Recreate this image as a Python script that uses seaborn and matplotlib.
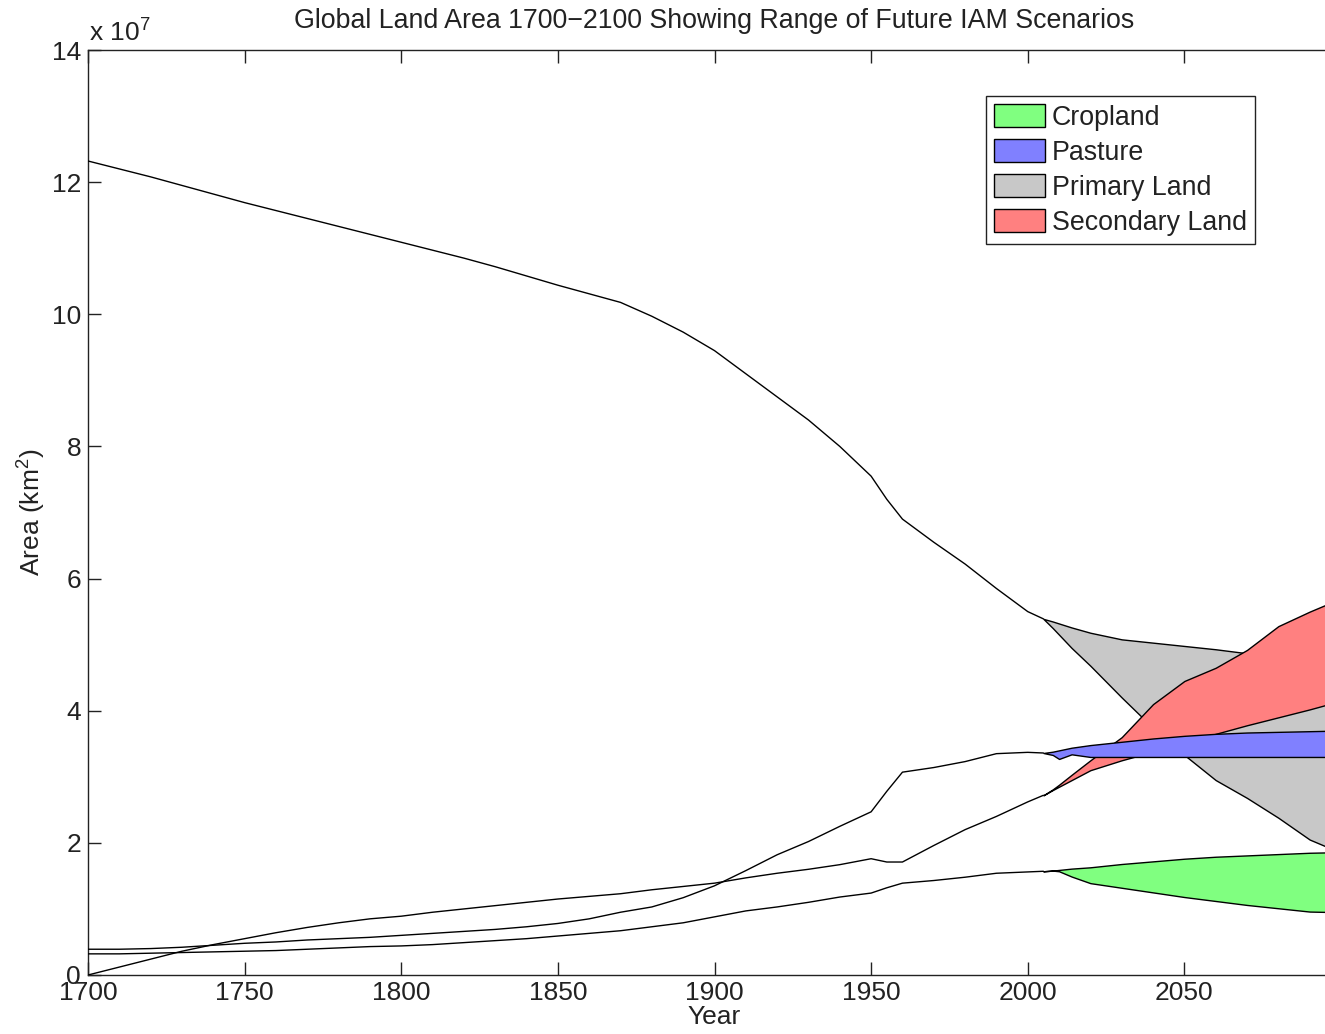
import numpy as np
import pandas as pd
import matplotlib
matplotlib.use("Agg")
import matplotlib.pyplot as plt
from matplotlib.patches import Patch
from matplotlib.ticker import FuncFormatter, FixedLocator
import seaborn as sns

# ---------------------------------------------------------------
# Historical reconstruction 1700-2005 (area in units of 10^7 km^2)
# ---------------------------------------------------------------
hist_years = [1700, 1710, 1720, 1730, 1740, 1750, 1760, 1770, 1780, 1790,
              1800, 1810, 1820, 1830, 1840, 1850, 1860, 1870, 1880, 1890,
              1900, 1910, 1920, 1930, 1940, 1950, 1955, 1960, 1970, 1980,
              1990, 2000, 2005]

hist_primary = [12.32, 12.20, 12.08, 11.95, 11.82, 11.69, 11.57, 11.45, 11.33, 11.21,
                11.09, 10.97, 10.85, 10.72, 10.58, 10.44, 10.31, 10.18, 9.97, 9.73,
                9.45, 9.10, 8.75, 8.40, 8.00, 7.55, 7.20, 6.90, 6.55, 6.22,
                5.85, 5.50, 5.39]

hist_pasture = [0.39, 0.39, 0.40, 0.42, 0.45, 0.48, 0.50, 0.53, 0.55, 0.57,
                0.60, 0.63, 0.66, 0.69, 0.73, 0.78, 0.85, 0.95, 1.03, 1.17,
                1.35, 1.58, 1.82, 2.02, 2.25, 2.47, 2.78, 3.07, 3.14, 3.23,
                3.35, 3.37, 3.36]

hist_cropland = [0.32, 0.32, 0.33, 0.34, 0.35, 0.36, 0.37, 0.39, 0.41, 0.43,
                 0.44, 0.46, 0.49, 0.52, 0.55, 0.59, 0.63, 0.67, 0.73, 0.79,
                 0.88, 0.97, 1.03, 1.10, 1.18, 1.24, 1.32, 1.39, 1.43, 1.48,
                 1.54, 1.56, 1.57]

hist_secondary = [0.00, 0.12, 0.24, 0.36, 0.46, 0.55, 0.64, 0.72, 0.79, 0.85,
                  0.89, 0.95, 1.00, 1.05, 1.10, 1.15, 1.19, 1.23, 1.29, 1.34,
                  1.39, 1.47, 1.54, 1.60, 1.67, 1.76, 1.71, 1.71, 1.96, 2.20,
                  2.40, 2.62, 2.72]

# ---------------------------------------------------------------
# Future IAM scenario envelopes 2005-2100 (min / max across scenarios)
# ---------------------------------------------------------------
future_years = [2005, 2008, 2010, 2014, 2020, 2030, 2040, 2050, 2060, 2070, 2080, 2090, 2100]

crop_hi = [1.57, 1.58, 1.59, 1.61, 1.63, 1.68, 1.72, 1.76, 1.79, 1.81, 1.83, 1.85, 1.86]
crop_lo = [1.57, 1.58, 1.57, 1.49, 1.39, 1.32, 1.25, 1.18, 1.12, 1.06, 1.01, 0.96, 0.95]

past_hi = [3.36, 3.38, 3.40, 3.44, 3.48, 3.53, 3.58, 3.62, 3.65, 3.67, 3.68, 3.69, 3.70]
past_lo = [3.36, 3.33, 3.27, 3.34, 3.30, 3.30, 3.30, 3.30, 3.30, 3.30, 3.30, 3.30, 3.30]

prim_hi = [5.39, 5.35, 5.32, 5.26, 5.18, 5.08, 5.03, 4.98, 4.93, 4.87, 4.75, 4.65, 4.55]
prim_lo = [5.39, 5.25, 5.15, 4.95, 4.68, 4.20, 3.74, 3.33, 2.95, 2.68, 2.38, 2.05, 1.85]

sec_hi = [2.72, 2.81, 2.88, 3.03, 3.25, 3.60, 4.10, 4.45, 4.65, 4.92, 5.28, 5.50, 5.70]
sec_lo = [2.72, 2.80, 2.85, 2.95, 3.10, 3.25, 3.38, 3.50, 3.65, 3.78, 3.90, 4.02, 4.15]

categories = ["Cropland", "Pasture", "Primary Land", "Secondary Land"]
fill_colors = {"Cropland": "#80ff80", "Pasture": "#8080ff",
               "Primary Land": "#c8c8c8", "Secondary Land": "#ff8080"}

SCALE = 1e7  # values above are in 10^7 km^2
INK = "#222222"

# ---------------------------------------------------------------
# Style
# ---------------------------------------------------------------
sns.set_theme(style="ticks")
plt.rcParams["font.family"] = ["Liberation Sans", "DejaVu Sans"]
plt.rcParams["mathtext.fontset"] = "custom"
plt.rcParams["mathtext.rm"] = "Liberation Sans"
plt.rcParams["mathtext.it"] = "Liberation Sans:italic"
plt.rcParams["text.color"] = INK
plt.rcParams["axes.labelcolor"] = INK

fig = plt.figure(figsize=(13.25, 10.34), dpi=100)
ax = fig.add_axes([88 / 1325, 59 / 1034, 1253 / 1325, 925 / 1034])

# ---------------------------------------------------------------
# Historical lines
# ---------------------------------------------------------------
hist = pd.DataFrame({
    "Year": hist_years * 4,
    "Area": np.concatenate([hist_cropland, hist_pasture,
                            hist_primary, hist_secondary]) * SCALE,
    "Type": np.repeat(categories, len(hist_years)),
})
sns.lineplot(data=hist, x="Year", y="Area", hue="Type", units="Type",
             estimator=None, palette=["black"] * 4, linewidth=1.0,
             legend=False, ax=ax, zorder=5)

# ---------------------------------------------------------------
# Scenario ranges (drawn back to front)
# ---------------------------------------------------------------
fy = np.array(future_years)
bands = [
    ("Primary Land", prim_lo, prim_hi),
    ("Secondary Land", sec_lo, sec_hi),
    ("Pasture", past_lo, past_hi),
    ("Cropland", crop_lo, crop_hi),
]
for i, (name, lo, hi) in enumerate(bands):
    ax.fill_between(fy, np.array(lo) * SCALE, np.array(hi) * SCALE,
                    facecolor=fill_colors[name], edgecolor="black",
                    linewidth=1.0, zorder=2 + i * 0.1)

# ---------------------------------------------------------------
# Axes
# ---------------------------------------------------------------
ax.set_xlim(1700, 2100)
ax.set_ylim(0, 14 * SCALE)
ax.xaxis.set_major_locator(FixedLocator(list(range(1700, 2051, 50))))
ax.yaxis.set_major_locator(FixedLocator([v * SCALE for v in range(0, 15, 2)]))
ax.yaxis.set_major_formatter(FuncFormatter(lambda v, p: f"{v / SCALE:g}"))

for side in ["top", "right", "left", "bottom"]:
    ax.spines[side].set_visible(True)
    ax.spines[side].set_color(INK)
    ax.spines[side].set_linewidth(1.0)

ax.tick_params(axis="both", which="major", direction="in", length=9.5,
               width=1.0, color=INK, labelsize=19,
               labelcolor=INK, top=True, right=True)
ax.tick_params(axis="x", pad=4)
ax.tick_params(axis="y", pad=5)

ax.set_xlabel("Year", fontsize=19, labelpad=0)
ax.set_ylabel("Area (km$^2$)", fontsize=19, labelpad=3)
ax.set_title("Global Land Area 1700\u22122100 Showing Range of Future IAM Scenarios",
             fontsize=19.3, pad=16)
ax.text(0.001, 1.004, r"x 10$^7$", transform=ax.transAxes,
        ha="left", va="bottom", fontsize=19)

handles = [Patch(facecolor=fill_colors[c], edgecolor="black", linewidth=1.0, label=c)
           for c in categories]
leg = ax.legend(handles=handles, loc="upper right",
                bbox_to_anchor=(0.931, 0.950), borderaxespad=0,
                fontsize=19.3, frameon=True, fancybox=False, shadow=False,
                handlelength=1.87, handleheight=0.95, handletextpad=0.26,
                labelspacing=0.3, borderpad=0.3)
leg.get_frame().set_edgecolor(INK)
leg.get_frame().set_linewidth(1.0)
leg.get_frame().set_alpha(1.0)

fig.savefig("out.png", dpi=100)
